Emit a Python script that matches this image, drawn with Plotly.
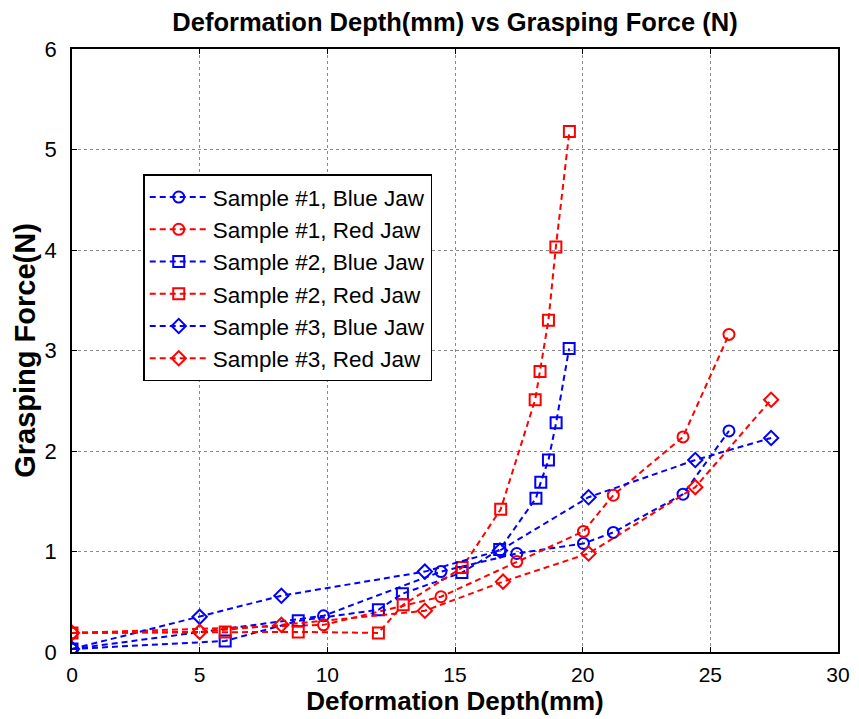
import plotly.graph_objects as go

# Deformation depth (mm) and grasping force (N) for each sample / jaw
s1_depth_blue = [0, 9.85, 14.45, 17.42, 20.03, 21.2, 23.93, 25.73]
s1_force_blue = [0.03, 0.36, 0.80, 0.98, 1.08, 1.19, 1.57, 2.20]
s1_depth_red = [0, 9.85, 14.45, 17.42, 20.03, 21.2, 23.93, 25.73]
s1_force_red = [0.19, 0.27, 0.55, 0.90, 1.20, 1.56, 2.14, 3.16]

s2_depth_blue = [0, 6.0, 8.86, 12.0, 12.94, 15.27, 16.75, 18.17, 18.36, 18.66, 18.96, 19.47]
s2_force_blue = [0.03, 0.11, 0.31, 0.42, 0.58, 0.79, 1.02, 1.53, 1.69, 1.91, 2.28, 3.02]
s2_depth_red = [0, 6.0, 8.86, 12.0, 12.97, 15.28, 16.79, 18.14, 18.33, 18.66, 18.95, 19.48]
s2_force_red = [0.19, 0.20, 0.20, 0.19, 0.47, 0.84, 1.42, 2.51, 2.79, 3.30, 4.03, 5.18]

s3_depth_blue = [0, 5.0, 8.2, 13.82, 16.76, 20.23, 24.41, 27.38]
s3_force_blue = [0.03, 0.35, 0.56, 0.80, 1.01, 1.54, 1.91, 2.13]
s3_depth_red = [0, 5.0, 8.2, 13.82, 16.88, 20.23, 24.41, 27.38]
s3_force_red = [0.19, 0.20, 0.27, 0.41, 0.70, 0.98, 1.64, 2.51]

x_ticks = [0, 5, 10, 15, 20, 25, 30]
y_ticks = [0, 1, 2, 3, 4, 5, 6]

series = [
    ("Sample #1, Blue Jaw", s1_depth_blue, s1_force_blue, "blue", "circle-open"),
    ("Sample #1, Red Jaw", s1_depth_red, s1_force_red, "red", "circle-open"),
    ("Sample #2, Blue Jaw", s2_depth_blue, s2_force_blue, "blue", "square-open"),
    ("Sample #2, Red Jaw", s2_depth_red, s2_force_red, "red", "square-open"),
    ("Sample #3, Blue Jaw", s3_depth_blue, s3_force_blue, "blue", "diamond-open"),
    ("Sample #3, Red Jaw", s3_depth_red, s3_force_red, "red", "diamond-open"),
]

fig = go.Figure()
for name, xs, ys, color, symbol in series:
    fig.add_trace(go.Scatter(
        x=xs, y=ys, name=name, mode="lines+markers",
        line=dict(color=color, width=2, dash="6px,4px"),
        marker=dict(symbol=symbol, size=11, color=color,
                    line=dict(color=color, width=2)),
    ))

sans = "Liberation Sans, Arial, sans-serif"

axis_common = dict(
    showline=True, linecolor="black", linewidth=1.5, mirror="ticks",
    ticks="inside", ticklen=5, tickcolor="black", tickwidth=1,
    showgrid=True, gridcolor="#8a8a8a", griddash="dot", gridwidth=1,
    zeroline=False, automargin=False,
)

fig.update_layout(
    width=859, height=719,
    paper_bgcolor="white", plot_bgcolor="white",
    margin=dict(l=72, r=21, t=49, b=67),
    title=dict(
        text="<b>Deformation Depth(mm) vs Grasping Force (N)</b>",
        x=0.5, xref="paper", xanchor="center",
        y=1 - 22 / 719, yanchor="middle",
        font=dict(family=sans, size=25.5, color="black"),
    ),
    xaxis=dict(
        range=[0, 30], tickvals=x_ticks, ticklabelstandoff=3,
        tickfont=dict(family=sans, size=21, color="black"),
        title=dict(text="<b>Deformation Depth(mm)</b>", standoff=3,
                   font=dict(family=sans, size=26, color="black")),
        **axis_common,
    ),
    yaxis=dict(
        range=[0, 6], tickvals=y_ticks, ticklabelstandoff=9,
        tickfont=dict(family=sans, size=22, color="black"),
        title=dict(text="<b>Grasping Force(N)</b>", standoff=0,
                   font=dict(family=sans, size=29, color="black")),
        **axis_common,
    ),
    legend=dict(
        x=0.093, y=0.792, xanchor="left", yanchor="top",
        bgcolor="white", bordercolor="black", borderwidth=1.5,
        font=dict(family=sans, size=22.5, color="black"),
        tracegroupgap=0, itemwidth=58,
    ),
    showlegend=True,
)

fig.write_html("out.html")
